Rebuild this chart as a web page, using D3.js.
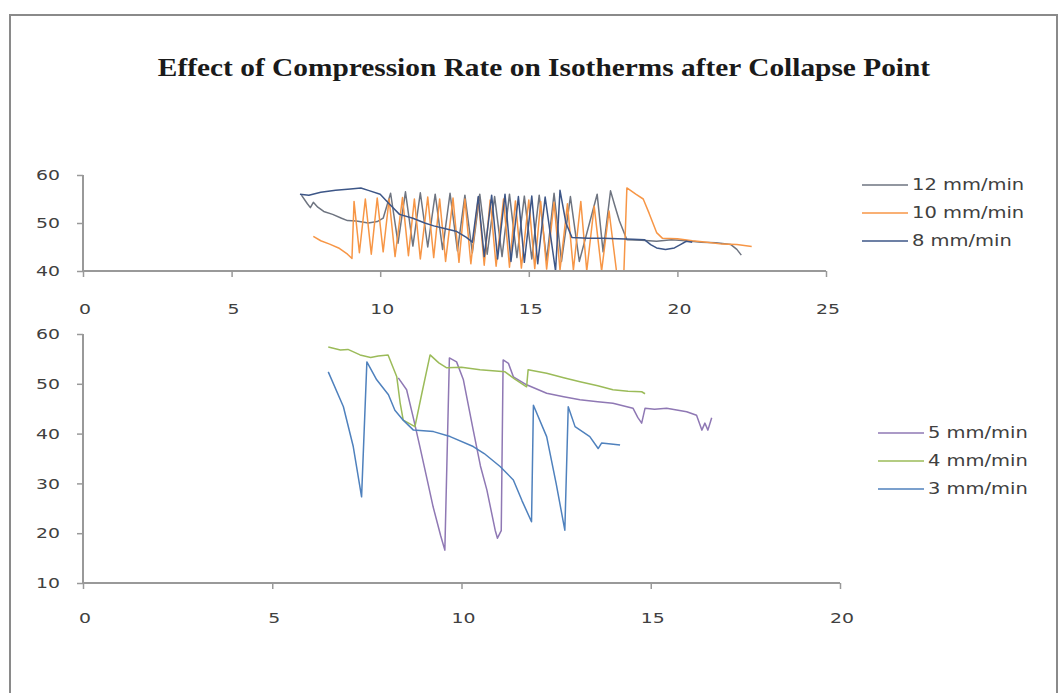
<!DOCTYPE html>
<html><head><meta charset="utf-8">
<script src="https://cdn.jsdelivr.net/npm/d3@7"></script>
<style>body{margin:0;background:#fff}svg{display:block}</style>
</head><body>
<svg id="c" width="1060" height="693"></svg>
<script>
const title = "Effect of Compression Rate on Isotherms after Collapse Point";
const topXTicks = [0,5,10,15,20,25];
const topYTicks = [40,50,60];
const botXTicks = [0,5,10,15,20];
const botYTicks = [10,20,30,40,50,60];
const topSeriesNames = ["12 mm/min","10 mm/min","8 mm/min"];
const botSeriesNames = ["5 mm/min","4 mm/min","3 mm/min"];

const s12 = [[7.35,55.8],[7.55,54],[7.65,53.2],[7.75,54.3],[7.9,53.3],[8.1,52.4],[8.4,51.8],[8.7,51],[8.9,50.5],[9.2,50.4],[9.6,50.0],[9.9,50.3],[10.1,51],
 [10.35,56.2],[10.6,45.8],[10.85,56.5],[11.1,45.2],[11.35,56.3],[11.6,45.0],[11.85,56.0],[12.1,44.5],[12.35,56.2],[12.6,44.2],[12.85,55.8],[13.1,43.8],
 [13.35,56.0],[13.6,43.5],[13.85,55.5],[14.1,43.0],[14.35,56.0],[14.6,42.8],[14.85,55.6],[15.1,42.5],[15.35,55.8],[15.6,42.2],[15.85,56.2],[16.1,42.0],
 [16.4,55.5],[16.7,42.0],[17.3,56.0],[17.5,44.0],[17.75,56.7],[17.9,53.5],[18.05,50.4],[18.3,46.5],[18.8,46.4],[19.3,46.2],[19.8,46.5],[20.3,46.3],
 [20.8,46.0],[21.3,45.9],[21.8,45.5],[22.0,44.5],[22.15,43.3]];
const s10 = [[7.75,47.2],[8.0,46.3],[8.3,45.6],[8.6,44.8],[8.9,43.5],[9.05,42.6],[9.12,54.5],[9.3,43.8],[9.5,55.0],[9.7,43.5],[9.9,55.2],[10.1,44.0],
 [10.3,55.0],[10.5,43.0],[10.75,55.3],[10.95,43.2],[11.15,55.0],[11.35,42.5],[11.6,55.4],[11.8,42.8],[12.0,55.0],[12.2,42.0],[12.45,55.2],[12.65,41.8],
 [12.85,55.0],[13.05,41.5],[13.3,55.3],[13.5,41.2],[13.7,54.8],[13.9,41.0],[14.15,55.0],[14.35,40.8],[14.55,54.6],[14.75,40.6],[15.0,54.8],[15.2,40.5],
 [15.4,54.5],[15.6,40.4],[15.85,54.3],[16.05,40.2],[16.3,54.0],[16.5,40.2],[16.75,54.5],[16.95,40.0],[17.2,53.5],[17.45,40.0],[17.7,52.5],[17.95,40.0],
 [18.2,40.0],[18.3,57.3],[18.6,56.0],[18.85,55.0],[19.05,52.0],[19.3,48.0],[19.5,46.8],[20.0,46.7],[20.5,46.3],[21.0,46.0],[21.5,45.6],[22.0,45.5],[22.5,45.1]];
const s8 = [[7.3,56.0],[7.6,55.8],[8.0,56.4],[8.5,56.8],[9.0,57.1],[9.35,57.3],[9.6,56.8],[10.0,56.0],[10.3,54.0],[10.65,51.8],[11.1,51.0],[11.5,50.0],
 [11.8,49.4],[12.2,48.8],[12.55,48.3],[12.9,47.0],[13.1,46.0],[13.3,55.5],[13.5,43.0],[13.75,55.8],[13.95,42.5],[14.2,56.0],[14.4,42.0],[14.65,55.5],
 [14.85,41.8],[15.1,55.6],[15.3,41.5],[15.55,55.4],[15.9,40.0],[16.05,56.8],[16.25,50.0],[16.45,47.0],[17.0,46.8],[17.5,46.8],[18.0,46.7],[18.5,46.6],
 [18.9,46.5],[19.1,45.5],[19.3,44.8],[19.6,44.5],[19.9,44.8],[20.1,45.5],[20.3,46.2],[20.5,46.0]];

const s5 = [[8.33,51.2],[8.55,48.8],[8.72,43.4],[8.9,37.4],[9.1,30.5],[9.25,25.3],[9.45,19.5],[9.56,16.6],[9.68,55.2],[9.87,54.4],[10.05,50.8],[10.31,40.7],
 [10.5,33.5],[10.67,28.7],[10.89,20.6],[10.95,19.0],[11.05,20.5],[11.1,54.8],[11.24,54.1],[11.37,51.4],[11.72,49.8],[12.25,48.1],[12.7,47.4],[13.13,46.8],
 [13.6,46.4],[14.0,46.1],[14.53,45.1],[14.66,43.2],[14.76,42.1],[14.85,45.1],[15.1,44.9],[15.42,45.1],[15.95,44.4],[16.21,43.7],[16.35,40.7],[16.43,42.1],
 [16.51,40.7],[16.61,43.2]];
const s4 = [[6.48,57.4],[6.8,56.8],[7.0,56.9],[7.32,55.8],[7.6,55.3],[7.8,55.6],[8.06,55.8],[8.29,51.4],[8.38,46.1],[8.46,42.7],[8.77,41.4],[8.95,48.0],
 [9.17,55.8],[9.4,54.2],[9.61,53.2],[10.0,53.3],[10.49,52.8],[11.15,52.4],[11.4,51.0],[11.72,49.4],[11.76,52.8],[12.25,52.1],[12.7,51.2],[13.13,50.4],
 [13.6,49.6],[14.0,48.8],[14.4,48.5],[14.76,48.4],[14.85,48.0]];
const s3 = [[6.48,52.4],[6.88,45.4],[7.14,37.4],[7.36,27.3],[7.5,54.4],[7.76,50.8],[8.07,47.8],[8.24,44.7],[8.46,42.7],[8.73,40.7],[9.26,40.4],[9.7,39.4],
 [10.31,37.4],[10.6,36.0],[11.02,33.4],[11.37,30.7],[11.6,26.5],[11.85,22.3],[11.9,45.7],[12.25,39.4],[12.5,30.0],[12.73,20.6],[12.82,45.4],[13.0,41.4],
 [13.39,39.4],[13.61,37.0],[13.7,38.1],[13.95,37.9],[14.19,37.7]];

const topColors = ["#6e7480","#f79646","#3d5687"];
const botColors = ["#8f78b4","#9bbb59","#4f81bd"];

const svg = d3.select("#c");
svg.append("rect").attr("x",10).attr("y",15).attr("width",1047).attr("height",700)
  .attr("fill","#fff").attr("stroke","#8a8a8a").attr("stroke-width",2);

const SX = 1.3;
const fontFam = "DejaVu Sans, Verdana, sans-serif";
function stext(x, y, str, anchor, size, sx) {
  svg.append("g").attr("transform",`translate(${x},${y}) scale(${sx},1)`)
    .append("text").attr("text-anchor",anchor).attr("dominant-baseline","central")
    .attr("font-family",fontFam).attr("font-size",size).attr("fill","#404040").text(str);
}

svg.append("g").attr("transform","translate(544,76) scale(1.13,1)")
  .append("text").attr("text-anchor","middle")
  .attr("font-family","Liberation Serif, Times New Roman, serif").attr("font-weight","bold")
  .attr("font-size",26).attr("fill","#1a1a1a").text(title);

const axisColor = "#999";

function panel(xs, ys, xTicks, yTicks, series, colors, labelY) {
  const g = svg.append("g");
  const line = d3.line().x(d=>xs(d[0])).y(d=>ys(d[1]));
  series.forEach((s,i)=>{
    g.append("path").datum(s).attr("d",line).attr("fill","none")
      .attr("stroke",colors[i]).attr("stroke-width",1.5).attr("stroke-linejoin","round");
  });
  const yAx = g.append("g").attr("transform",`translate(${xs.range()[0]},0)`)
    .call(d3.axisLeft(ys).tickValues(yTicks).tickSize(6).tickFormat(()=>""));
  const xAx = g.append("g").attr("transform",`translate(0,${ys.range()[0]})`)
    .call(d3.axisBottom(xs).tickValues(xTicks).tickSize(6).tickFormat(()=>""));
  [yAx,xAx].forEach(a=>{
    a.select(".domain").attr("stroke",axisColor).attr("stroke-width",2);
    a.selectAll(".tick line").attr("stroke",axisColor).attr("stroke-width",1.5);
  });
  yAx.select(".domain").attr("d",`M0,${ys.range()[1]}V${ys.range()[0]}`);
  xAx.select(".domain").attr("d",`M${xs.range()[0]},0H${xs.range()[1]}`);
  yTicks.forEach(t=> stext(60, ys(t), t, "end", 14.5, SX));
  xTicks.forEach(t=> stext(xs(t)+2, labelY, t, "middle", 14.5, SX));
}

const xTop = d3.scaleLinear().domain([0,25]).range([83,826]);
const yTop = d3.scaleLinear().domain([40,60]).range([271,175]);
panel(xTop, yTop, topXTicks, topYTicks, [s12,s10,s8], topColors, 309);

const xBot = d3.scaleLinear().domain([0,20]).range([83,840]);
const yBot = d3.scaleLinear().domain([10,60]).range([583,334]);
panel(xBot, yBot, botXTicks, botYTicks, [s5,s4,s3], botColors, 618);

function legend(x0, y0, names, colors) {
  names.forEach((n,i)=>{
    const y = y0 + i*28;
    svg.append("line").attr("x1",x0).attr("x2",x0+46).attr("y1",y).attr("y2",y)
      .attr("stroke",colors[i]).attr("stroke-width",1.6);
    stext(x0+50, y, n, "start", 15, SX);
  });
}
legend(862, 185, topSeriesNames, topColors);
legend(878, 433, botSeriesNames, botColors);
</script>
</body></html>
